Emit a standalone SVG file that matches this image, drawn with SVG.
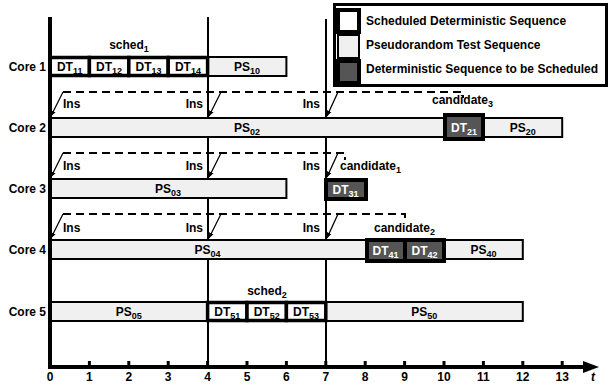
<svg xmlns="http://www.w3.org/2000/svg" width="608" height="385" viewBox="0 0 608 385">
<style>
text{font-family:"Liberation Sans",Arial,sans-serif;font-weight:bold;font-size:12px;fill:#000}
.sub{font-size:9px}
.mid{text-anchor:middle}
.end{text-anchor:end}
.wt{fill:#fff}
.ps{fill:#f0f0f0;stroke:#000;stroke-width:2}
.dt{fill:#fff;stroke:#000;stroke-width:3.5}
.dk{fill:#555;stroke:#000;stroke-width:4}
.dash{stroke:#000;stroke-width:2;stroke-dasharray:8,5;fill:none}
.sl{stroke:#000;stroke-width:1.3;fill:none;marker-end:url(#ah)}
.ln{stroke:#000;stroke-width:2;fill:none}
</style>
<defs>
<marker id="ah" viewBox="0 0 10 10" refX="9" refY="5" markerWidth="6" markerHeight="6" orient="auto" markerUnits="userSpaceOnUse">
<path d="M0,1 L10,5 L0,9 Z" fill="#000"/>
</marker>
</defs>

<g id="legend">
<rect x="334.5" y="4.5" width="272" height="81" fill="#fff" stroke="#000" stroke-width="3"/>
<rect x="338" y="10" width="21" height="22" fill="#fff" stroke="#000" stroke-width="4"/>
<rect x="338" y="35" width="21" height="23" fill="#f0f0f0" stroke="#000" stroke-width="2"/>
<rect x="338" y="61" width="21" height="22" fill="#555" stroke="#000" stroke-width="4"/>
<text x="366" y="25">Scheduled Deterministic Sequence</text>
<text x="366" y="49">Pseudorandom Test Sequence</text>
<text x="366" y="73">Deterministic Sequence to be Scheduled</text>
</g>

<g id="connectors">
<line class="ln" x1="208" y1="17" x2="208" y2="367"/>
<line class="ln" x1="326" y1="19" x2="326" y2="367"/>
<polyline class="dash" points="63,92 463,92 463,98"/>
<line class="sl" x1="63" y1="92" x2="51" y2="116"/>
<line class="sl" x1="221" y1="92" x2="209" y2="116"/>
<line class="sl" x1="338" y1="92" x2="327" y2="116"/>
<polyline class="dash" points="63,153 345,153 345,160"/>
<line class="sl" x1="63" y1="153" x2="51" y2="177"/>
<line class="sl" x1="221" y1="153" x2="209" y2="177"/>
<line class="sl" x1="338" y1="153" x2="327" y2="177"/>
<polyline class="dash" points="63,214 405,214 405,221"/>
<line class="sl" x1="63" y1="214" x2="51" y2="238"/>
<line class="sl" x1="221" y1="214" x2="209" y2="238"/>
<line class="sl" x1="338" y1="214" x2="327" y2="238"/>
</g>

<g id="labels">
<text x="63" y="108">Ins</text><text class="end" x="203" y="108">Ins</text><text class="end" x="320" y="108">Ins</text>
<text x="63" y="170">Ins</text><text class="end" x="203" y="170">Ins</text><text class="end" x="320" y="170">Ins</text>
<text x="63" y="232">Ins</text><text class="end" x="203" y="232">Ins</text><text class="end" x="320" y="232">Ins</text>
<text x="432" y="104">candidate<tspan class="sub" dy="3">3</tspan></text>
<text x="340" y="170">candidate<tspan class="sub" dy="3">1</tspan></text>
<text x="374" y="232">candidate<tspan class="sub" dy="3">2</tspan></text>
<text class="mid" x="129" y="49">sched<tspan class="sub" dy="3">1</tspan></text>
<text class="mid" x="267" y="295">sched<tspan class="sub" dy="3">2</tspan></text>
</g>

<g id="core1">
<text class="end" x="46" y="71">Core 1</text>
<rect class="ps" x="208" y="57" width="78.4" height="19"/>
<text class="mid" x="247" y="71">PS<tspan class="sub" dy="3">10</tspan></text>
<rect class="dt" x="50" y="57.5" width="39.4" height="18"/>
<rect class="dt" x="89.4" y="57.5" width="39.4" height="18"/>
<rect class="dt" x="128.8" y="57.5" width="39.4" height="18"/>
<rect class="dt" x="168.2" y="57.5" width="39.4" height="18"/>
<text class="mid" x="69.7" y="71">DT<tspan class="sub" dy="3">11</tspan></text>
<text class="mid" x="109.1" y="71">DT<tspan class="sub" dy="3">12</tspan></text>
<text class="mid" x="148.5" y="71">DT<tspan class="sub" dy="3">13</tspan></text>
<text class="mid" x="187.9" y="71">DT<tspan class="sub" dy="3">14</tspan></text>
</g>

<g id="core2">
<text class="end" x="46" y="132">Core 2</text>
<rect class="ps" x="50" y="118" width="394" height="19"/>
<rect class="ps" x="483.4" y="118" width="78.8" height="19"/>
<rect class="dk" x="445" y="115" width="38" height="24"/>
<text class="mid" x="247" y="132">PS<tspan class="sub" dy="3">02</tspan></text>
<text class="mid wt" x="464" y="132">DT<tspan class="sub wt" dy="3">21</tspan></text>
<text class="mid" x="522.8" y="132">PS<tspan class="sub" dy="3">20</tspan></text>
</g>

<g id="core3">
<text class="end" x="46" y="193">Core 3</text>
<rect class="ps" x="50" y="179" width="236.4" height="19"/>
<text class="mid" x="168" y="193">PS<tspan class="sub" dy="3">03</tspan></text>
<rect class="dk" x="326" y="180" width="40" height="19"/>
<text class="mid wt" x="345.5" y="194">DT<tspan class="sub wt" dy="3">31</tspan></text>
</g>

<g id="core4">
<text class="end" x="46" y="254">Core 4</text>
<rect class="ps" x="50" y="240" width="472.8" height="19"/>
<text class="mid" x="207.6" y="254">PS<tspan class="sub" dy="3">04</tspan></text>
<rect class="dk" x="367" y="240" width="38" height="21"/>
<rect class="dk" x="405" y="240" width="39" height="21"/>
<text class="mid wt" x="385.5" y="255">DT<tspan class="sub wt" dy="3">41</tspan></text>
<text class="mid wt" x="424.5" y="255">DT<tspan class="sub wt" dy="3">42</tspan></text>
<text class="mid" x="483.4" y="254">PS<tspan class="sub" dy="3">40</tspan></text>
</g>

<g id="core5">
<text class="end" x="46" y="316">Core 5</text>
<rect class="ps" x="50" y="302" width="157.6" height="19"/>
<rect class="ps" x="325.8" y="302" width="197" height="19"/>
<text class="mid" x="128.8" y="316">PS<tspan class="sub" dy="3">05</tspan></text>
<text class="mid" x="424.3" y="316">PS<tspan class="sub" dy="3">50</tspan></text>
<rect class="dt" x="207.6" y="302.5" width="39.4" height="18"/>
<rect class="dt" x="247" y="302.5" width="39.4" height="18"/>
<rect class="dt" x="286.4" y="302.5" width="39.4" height="18"/>
<text class="mid" x="227.3" y="316">DT<tspan class="sub" dy="3">51</tspan></text>
<text class="mid" x="266.7" y="316">DT<tspan class="sub" dy="3">52</tspan></text>
<text class="mid" x="306.1" y="316">DT<tspan class="sub" dy="3">53</tspan></text>
</g>

<g id="axes">
<line x1="50" y1="17" x2="50" y2="369" stroke="#000" stroke-width="4"/>
<line x1="48" y1="367" x2="586" y2="367" stroke="#000" stroke-width="4"/>
<path d="M583,361 L599,367 L583,373 Z" fill="#000"/>
<g stroke="#000" stroke-width="3">
<line x1="89.4" y1="361" x2="89.4" y2="367"/><line x1="128.8" y1="361" x2="128.8" y2="367"/>
<line x1="168.2" y1="361" x2="168.2" y2="367"/><line x1="207.6" y1="361" x2="207.6" y2="367"/>
<line x1="247" y1="361" x2="247" y2="367"/><line x1="286.4" y1="361" x2="286.4" y2="367"/>
<line x1="325.8" y1="361" x2="325.8" y2="367"/><line x1="365.2" y1="361" x2="365.2" y2="367"/>
<line x1="404.6" y1="361" x2="404.6" y2="367"/><line x1="444" y1="361" x2="444" y2="367"/>
<line x1="483.4" y1="361" x2="483.4" y2="367"/><line x1="522.8" y1="361" x2="522.8" y2="367"/>
<line x1="562.2" y1="361" x2="562.2" y2="367"/>
</g>
<g class="ticks">
<text class="mid" x="50" y="381">0</text><text class="mid" x="89.4" y="381">1</text>
<text class="mid" x="128.8" y="381">2</text><text class="mid" x="168.2" y="381">3</text>
<text class="mid" x="207.6" y="381">4</text><text class="mid" x="247" y="381">5</text>
<text class="mid" x="286.4" y="381">6</text><text class="mid" x="325.8" y="381">7</text>
<text class="mid" x="365.2" y="381">8</text><text class="mid" x="404.6" y="381">9</text>
<text class="mid" x="444" y="381">10</text><text class="mid" x="483.4" y="381">11</text>
<text class="mid" x="522.8" y="381">12</text><text class="mid" x="562.2" y="381">13</text>
<text x="591" y="381" font-style="italic">t</text>
</g>
</g>
</svg>
